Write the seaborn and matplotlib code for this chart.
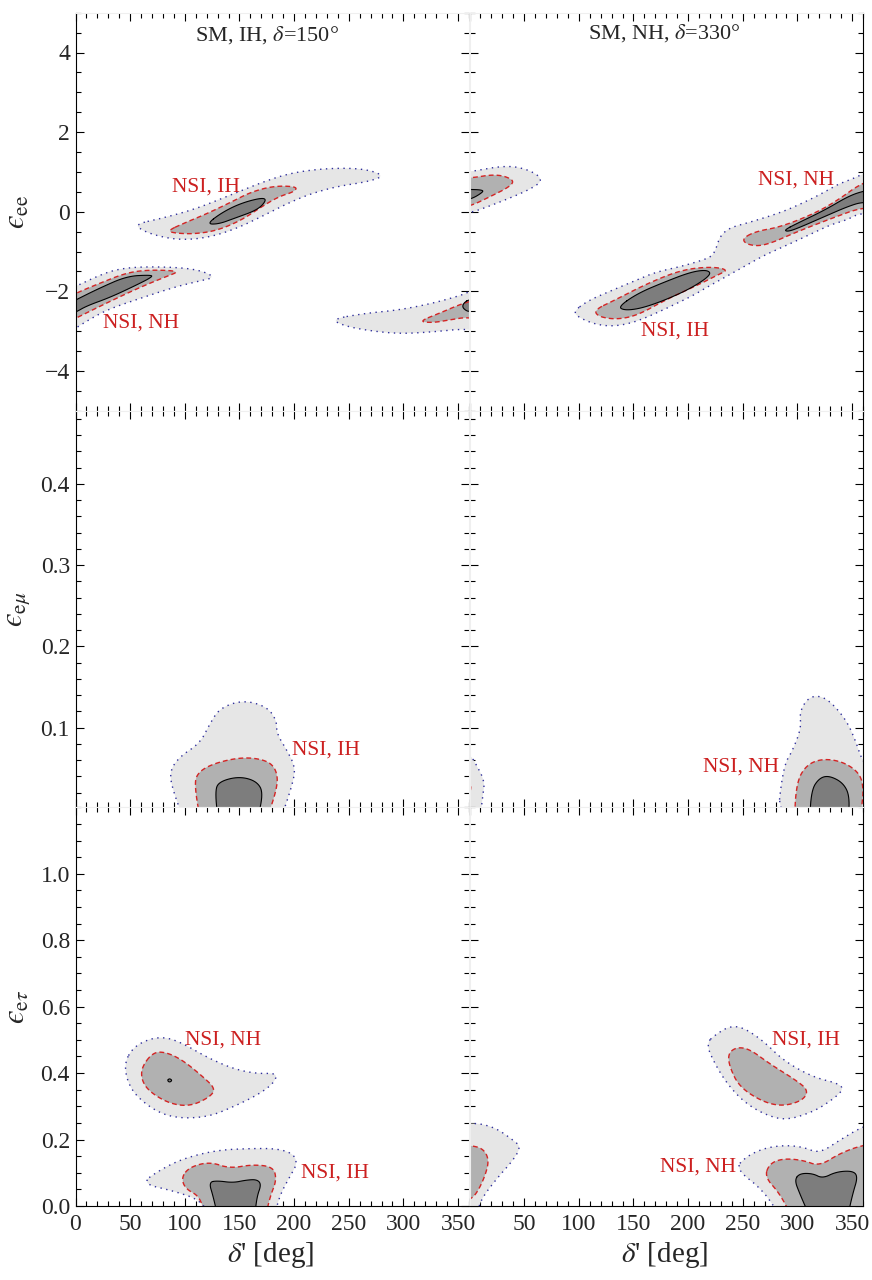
import numpy as np
import matplotlib
matplotlib.use("Agg")
import matplotlib.pyplot as plt
import seaborn as sns
from matplotlib.ticker import MultipleLocator, FixedLocator, FuncFormatter

# ---------------------------------------------------------------------------
# Allowed regions in the (delta', epsilon) plane, as outline vertices
# (delta' in degrees, epsilon).  "out" = outermost (light), "mid" = middle
# (dashed red edge), "in" = innermost (solid black edge).
# ---------------------------------------------------------------------------

# --- epsilon_ee, true SM with IH, delta = 150 deg --------------------------
ee150_ih_out = [(55, -0.31), (80, -0.16), (110, 0.07), (140, 0.40), (165, 0.68),
                (190, 0.92), (212, 1.04), (240, 1.10), (266, 1.07), (283, 0.90),
                (267, 0.75), (240, 0.64), (215, 0.45), (194, 0.21), (172, -0.10),
                (146, -0.44), (120, -0.66), (95, -0.71), (75, -0.61), (60, -0.46)]
ee150_ih_mid = [(84, -0.48), (100, -0.28), (121, -0.04), (143, 0.25), (161, 0.50),
                (182, 0.65), (203, 0.63), (200, 0.50), (186, 0.38), (170, 0.12),
                (152, -0.21), (130, -0.47), (109, -0.56), (91, -0.54)]
ee150_ih_in = [(120, -0.31), (134, -0.02), (151, 0.21), (170, 0.35), (175, 0.30),
               (167, 0.05), (145, -0.17), (131, -0.31)]
ee150_nh_out = [(-20, -2.10), (0, -1.88), (20, -1.62), (37, -1.45), (60, -1.38),
                (95, -1.40), (115, -1.48), (128, -1.65), (112, -1.75), (90, -1.90),
                (60, -2.17), (30, -2.45), (12, -2.72), (0, -2.93), (-20, -3.25)]
ee150_nh_mid = [(-20, -2.35), (0, -2.05), (22, -1.80), (47, -1.53), (68, -1.46),
                (96, -1.49), (83, -1.63), (59, -1.90), (31, -2.26), (0, -2.68),
                (-20, -2.95)]
ee150_nh_in = [(-20, -2.50), (0, -2.22), (22, -1.92), (47, -1.62), (68, -1.59),
               (71, -1.63), (53, -1.88), (31, -2.16), (10, -2.37), (0, -2.53),
               (-20, -2.75)]
ee150_wrap_out = [(234, -2.70), (266, -2.55), (296, -2.47), (327, -2.30), (354, -2.09),
                  (360, -2.01), (380, -1.80), (380, -3.10), (360, -2.93), (327, -3.02),
                  (296, -3.07), (266, -2.98), (245, -2.86)]
ee150_wrap_mid = [(314, -2.76), (333, -2.55), (351, -2.34), (360, -2.26), (380, -2.10),
                  (380, -2.80), (360, -2.64), (342, -2.72), (327, -2.79)]
ee150_wrap_in = [(360, -2.20), (355, -2.30), (354, -2.40), (357, -2.48), (360, -2.51),
                 (380, -2.52), (380, -2.18)]

# --- epsilon_ee, true SM with NH, delta = 330 deg --------------------------
ee330_edge_out = [(-20, 0.95), (0, 1.00), (34, 1.17), (55, 1.05), (68, 0.80),
                  (55, 0.55), (25, 0.21), (0, -0.04), (-20, -0.10)]
ee330_edge_mid = [(-20, 0.84), (0, 0.84), (25, 0.95), (41, 0.80), (37, 0.63),
                  (19, 0.38), (0, 0.13), (-20, 0.05)]
ee330_edge_in = [(-20, 0.56), (0, 0.56), (11, 0.55), (13, 0.50), (0, 0.29), (-20, 0.25)]
ee330_band_out = [(95, -2.51), (108, -2.24), (130, -1.98), (150, -1.75), (170, -1.52),
                  (193, -1.38), (213, -1.22), (222, -1.12), (226, -0.90), (229, -0.62),
                  (238, -0.40), (256, -0.27), (285, -0.02), (305, 0.22), (322, 0.45),
                  (337, 0.69), (350, 0.82), (360, 0.95), (380, 1.20), (380, -0.25),
                  (360, 0.00), (345, -0.21), (331, -0.32), (314, -0.54), (300, -0.72),
                  (284, -0.92), (270, -1.09), (253, -1.35), (238, -1.58), (220, -1.85),
                  (207, -2.07), (190, -2.30), (177, -2.47), (160, -2.68), (145, -2.82),
                  (130, -2.88), (115, -2.83), (100, -2.66)]
ee330_ih_mid = [(114, -2.47), (133, -2.22), (163, -1.80), (194, -1.46), (221, -1.38),
                (237, -1.46), (227, -1.59), (209, -1.84), (179, -2.22), (154, -2.60),
                (135, -2.71), (118, -2.64)]
ee330_ih_in = [(136, -2.39), (154, -2.05), (179, -1.76), (203, -1.51), (218, -1.46),
               (221, -1.59), (203, -1.92), (179, -2.22), (157, -2.43), (142, -2.48)]
ee330_nh_mid = [(249, -0.69), (261, -0.50), (285, -0.38), (316, -0.04), (337, 0.29),
                (358, 0.71), (380, 0.90), (380, 0.05), (360, 0.12), (331, -0.17),
                (300, -0.50), (270, -0.86), (255, -0.84)]
ee330_nh_in = [(288, -0.46), (300, -0.29), (325, 0.04), (346, 0.38), (360, 0.52),
               (380, 0.60), (380, 0.20), (360, 0.25), (346, 0.13), (325, -0.12),
               (300, -0.42), (291, -0.50)]

# --- epsilon_emu --------------------------------------------------------------
em150_ih_out = [(101, -0.02), (89, 0.023), (86, 0.046), (95, 0.064), (114, 0.081),
                (123, 0.105), (132, 0.124), (153, 0.134), (175, 0.126), (184, 0.109),
                (184, 0.093), (193, 0.073), (201, 0.052), (199, 0.032), (186, -0.02)]
em150_ih_mid = [(115, -0.02), (109, 0.027), (111, 0.044), (126, 0.056), (153, 0.064),
                (175, 0.060), (184, 0.048), (185, 0.027), (173, -0.02)]
em150_ih_in = [(131, -0.02), (127.5, 0.023), (132, 0.034), (150, 0.040), (166, 0.034),
               (172, 0.019), (165, -0.02)]
em330_edge_out = [(-20, 0.070), (0, 0.068), (6, 0.055), (14, 0.034), (12, 0.015),
                  (9, -0.02), (-20, -0.02)]
em330_edge_mid = [(-20, 0.035), (0, 0.033), (1.5, 0.027), (0, 0.019), (-20, 0.017)]
em330_nh_out = [(281, -0.02), (287, 0.052), (296, 0.073), (303.5, 0.100), (302, 0.118),
                (308, 0.134), (317, 0.140), (329, 0.134), (345, 0.109), (354, 0.081),
                (359, 0.060), (375, 0.030), (375, -0.02)]
em330_nh_mid = [(297, -0.02), (299, 0.032), (308, 0.054), (323, 0.062), (342, 0.058),
                (357, 0.044), (360.5, 0.025), (359, 0.005), (357, -0.02)]
em330_nh_in = [(311, -0.02), (312.7, 0.023), (320, 0.038), (329, 0.041), (342, 0.032),
               (348, 0.015), (346, -0.02)]

# --- epsilon_etau -------------------------------------------------------------
et150_nh_out = [(45, 0.433), (53, 0.478), (68, 0.504), (83, 0.508), (98.5, 0.489),
                (120, 0.448), (144, 0.413), (166, 0.398), (185, 0.400), (181, 0.368),
                (166, 0.333), (144, 0.298), (123, 0.270), (98.5, 0.263), (77, 0.278),
                (56, 0.328), (47, 0.378)]
et150_nh_mid = [(60.5, 0.418), (71, 0.463), (83, 0.463), (98.5, 0.438), (117, 0.388),
                (128, 0.353), (123, 0.328), (105, 0.300), (86, 0.308), (68, 0.343),
                (60.5, 0.378)]
et150_nh_in = [(84, 0.378), (86, 0.384), (88.5, 0.378), (86, 0.372)]
et150_ih_out = [(60, 0.068), (77, 0.108), (98.5, 0.143), (129, 0.168), (159, 0.173),
                (184, 0.173), (199, 0.158), (203, 0.128), (196, 0.088), (187, 0.033),
                (182, -0.03), (123, -0.03), (114, 0.018), (90, 0.045)]
et150_ih_mid = [(97, 0.088), (105, 0.118), (123, 0.133), (141, 0.113), (162, 0.125),
                (181, 0.118), (184, 0.078), (178, 0.028), (174, -0.03), (118, -0.03),
                (114, 0.028), (100, 0.053)]
et150_ih_in = [(122, 0.072), (130, 0.076), (144, 0.070), (156, 0.078), (166, 0.080),
               (170, 0.065), (166, 0.028), (164, -0.03), (130, -0.03), (126, 0.028)]
et330_edge_out = [(-20, 0.250), (0, 0.248), (10, 0.248), (25, 0.233), (40, 0.198),
                  (47, 0.178), (40, 0.138), (25, 0.083), (10, 0.018), (7, -0.03),
                  (-20, -0.03)]
et330_edge_mid = [(-20, 0.185), (0, 0.183), (12.6, 0.173), (18, 0.138), (14, 0.088),
                  (6.6, 0.038), (0, 0.018), (-20, 0.0)]
et330_ih_out = [(216, 0.489), (226, 0.518), (238, 0.541), (250, 0.538), (268.5, 0.498),
                (287, 0.438), (314, 0.388), (338.6, 0.368), (342, 0.348), (329, 0.313),
                (314, 0.283), (290, 0.258), (271.6, 0.273), (253, 0.308), (238, 0.358),
                (226, 0.418)]
et330_ih_mid = [(236.5, 0.458), (244, 0.478), (256, 0.473), (274.6, 0.428), (299, 0.378),
                (310, 0.348), (305, 0.318), (287, 0.300), (268.5, 0.313), (247, 0.358),
                (238, 0.418)]
et330_nh_out = [(243, 0.113), (253, 0.148), (268.5, 0.173), (287, 0.183), (305, 0.178),
                (320, 0.158), (338.6, 0.198), (359, 0.238), (380, 0.260), (380, -0.03),
                (284, -0.03), (268.5, 0.048)]
et330_nh_mid = [(270, 0.088), (274.6, 0.128), (287, 0.143), (305, 0.138), (320, 0.120),
                (338.6, 0.158), (359, 0.183), (380, 0.190), (380, -0.03), (294.4, -0.03),
                (283.7, 0.038)]
et330_nh_in = [(297.4, 0.078), (302, 0.098), (314, 0.098), (323, 0.083), (335.5, 0.103),
               (350.7, 0.106), (355.3, 0.088), (350.7, 0.038), (346, -0.03), (311, -0.03),
               (302, 0.038)]

# Row / column settings and annotations (lunate epsilon U+03F5)
row_labels = ["$\u03f5_{\\mathrm{ee}}$", "$\u03f5_{\\mathrm{e}\\mu}$",
              "$\u03f5_{\\mathrm{e}\\tau}$"]
row_limits = [(-5, 5), (0.002, 0.49), (0.0, 1.2)]
row_major = [[-4, -2, 0, 2, 4], [0.1, 0.2, 0.3, 0.4], [0.0, 0.2, 0.4, 0.6, 0.8, 1.0]]
row_minor = [0.5, 0.02, 0.05]
row_fmt = ["{:.0f}", "{:.1f}", "{:.1f}"]
x_major = [0, 50, 100, 150, 200, 250, 300, 350]
col_titles = [r"SM, IH, $\delta$=150°", r"SM, NH, $\delta$=330°"]
title_pos = [(175, 4.45), (178.6, 4.48)]

panel_regions = {
    (0, 0): ([ee150_ih_out, ee150_nh_out, ee150_wrap_out],
             [ee150_ih_mid, ee150_nh_mid, ee150_wrap_mid],
             [ee150_ih_in, ee150_nh_in, ee150_wrap_in]),
    (0, 1): ([ee330_edge_out, ee330_band_out],
             [ee330_edge_mid, ee330_ih_mid, ee330_nh_mid],
             [ee330_edge_in, ee330_ih_in, ee330_nh_in]),
    (1, 0): ([em150_ih_out], [em150_ih_mid], [em150_ih_in]),
    (1, 1): ([em330_edge_out, em330_nh_out], [em330_edge_mid, em330_nh_mid], [em330_nh_in]),
    (2, 0): ([et150_nh_out, et150_ih_out], [et150_nh_mid, et150_ih_mid],
             [et150_nh_in, et150_ih_in]),
    (2, 1): ([et330_edge_out, et330_ih_out, et330_nh_out],
             [et330_edge_mid, et330_ih_mid, et330_nh_mid], [et330_nh_in]),
}

panel_notes = {
    (0, 0): [("NSI, IH", 119, 0.61), ("NSI, NH", 59.6, -2.79)],
    (0, 1): [("NSI, NH", 298.3, 0.80), ("NSI, IH", 188.4, -2.99)],
    (1, 0): [("NSI, IH", 229, 0.0725)],
    (1, 1): [("NSI, NH", 248.7, 0.052)],
    (2, 0): [("NSI, NH", 135, 0.50), ("NSI, IH", 237, 0.100)],
    (2, 1): [("NSI, IH", 308, 0.50), ("NSI, NH", 209, 0.118)],
}

# ---------------------------------------------------------------------------
sns.set_theme(style="ticks")
plt.rcParams.update({
    "font.family": ["Liberation Serif", "DejaVu Serif"],
    "mathtext.fontset": "stix",
    "axes.facecolor": "white",
    "figure.facecolor": "white",
    "axes.unicode_minus": True,
})

fill_colors = ["#e6e6e6", "#b1b1b1", "#7d7d7d"]
edge_styles = [dict(color="#2f2f9c", lw=1.0, linestyle=(0, (1, 3.2))),
               dict(color="#d42424", lw=1.0, linestyle=(0, (3.5, 2.2))),
               dict(color="black", lw=0.8, linestyle="-")]


def smooth_outline(vertices, passes=3):
    """Closed-outline corner cutting (Chaikin) for a smooth contour edge."""
    p = np.asarray(vertices, dtype=float)
    for _ in range(passes):
        q = np.roll(p, -1, axis=0)
        out = np.empty((2 * len(p), 2))
        out[0::2] = 0.75 * p + 0.25 * q
        out[1::2] = 0.25 * p + 0.75 * q
        p = out
    return np.vstack([p, p[:1]])


fig = plt.figure(figsize=(8.72, 12.8), dpi=100)
col_x0 = [75.5 / 872, 469.5 / 872]
col_w = 393.5 / 872
row_y0 = [(1280 - 410.7) / 1280, (1280 - 807.3) / 1280, (1280 - 1206) / 1280]
row_h = [398.0 / 1280, 396.6 / 1280, 398.7 / 1280]

for r in range(3):
    for c in range(2):
        ax = fig.add_axes([col_x0[c], row_y0[r], col_w, row_h[r]])
        outs, mids, ins = panel_regions[(r, c)]
        for level, group in enumerate([outs, mids, ins]):
            for verts in group:
                pts = smooth_outline(verts)
                ax.fill(pts[:, 0], pts[:, 1], color=fill_colors[level], lw=0,
                        zorder=1 + level)
        for level, group in enumerate([outs, mids, ins]):
            for verts in group:
                pts = smooth_outline(verts)
                sns.lineplot(x=pts[:, 0], y=pts[:, 1], sort=False, estimator=None,
                             ax=ax, zorder=5 + level, legend=False, **edge_styles[level])

        for text, x, y in panel_notes[(r, c)]:
            ax.text(x, y, text, color="#cc2020", fontsize=15.5, ha="center",
                    va="center", zorder=10)
        if r == 0:
            ax.text(*title_pos[c], col_titles[c], fontsize=16, ha="center",
                    va="center", zorder=10)

        ax.set_xlim(0, 360)
        ax.set_ylim(*row_limits[r])
        ax.xaxis.set_major_locator(FixedLocator(x_major))
        ax.xaxis.set_minor_locator(MultipleLocator(10))
        ax.yaxis.set_major_locator(FixedLocator(row_major[r]))
        ax.yaxis.set_minor_locator(MultipleLocator(row_minor[r]))
        ax.tick_params(which="both", direction="in", top=True, right=True,
                       bottom=True, left=True, color="black", width=0.8)
        ax.tick_params(which="major", length=6, labelsize=17)
        ax.tick_params(which="minor", length=3.5)
        ax.tick_params(axis="x", pad=6)
        ax.tick_params(axis="y", pad=4)

        fmt = row_fmt[r]
        if c == 0:
            ax.yaxis.set_major_formatter(
                FuncFormatter(lambda v, p, f=fmt: f.format(v).replace("-", "\u2212")))
            ax.set_ylabel(row_labels[r], fontsize=22, rotation=90)
            ax.yaxis.set_label_coords(-0.11, 0.5)
        else:
            ax.set_yticklabels([])
            ax.set_ylabel("")
        if r == 2:
            if c == 0:
                ax.xaxis.set_major_formatter(FuncFormatter(lambda v, p: f"{v:.0f}"))
            else:
                ax.xaxis.set_major_formatter(
                    FuncFormatter(lambda v, p: "" if v == 0 else f"{v:.0f}"))
            ax.set_xlabel(r"$\delta$' [deg]", fontsize=21)
            ax.xaxis.set_label_coords(0.496, -0.085)
        else:
            ax.set_xticklabels([])
            ax.set_xlabel("")

        for side in ["left", "right", "top", "bottom"]:
            ax.spines[side].set_visible(True)
            ax.spines[side].set_color("#efefef")
            ax.spines[side].set_linewidth(0.8)
        if c == 0:
            ax.spines["left"].set_color("black")
        if c == 1:
            ax.spines["right"].set_color("black")
        if r == 2:
            ax.spines["bottom"].set_color("black")
        for side in ["left", "right", "top", "bottom"]:
            ax.spines[side].set_zorder(20)

fig.savefig("out.png", dpi=100)
